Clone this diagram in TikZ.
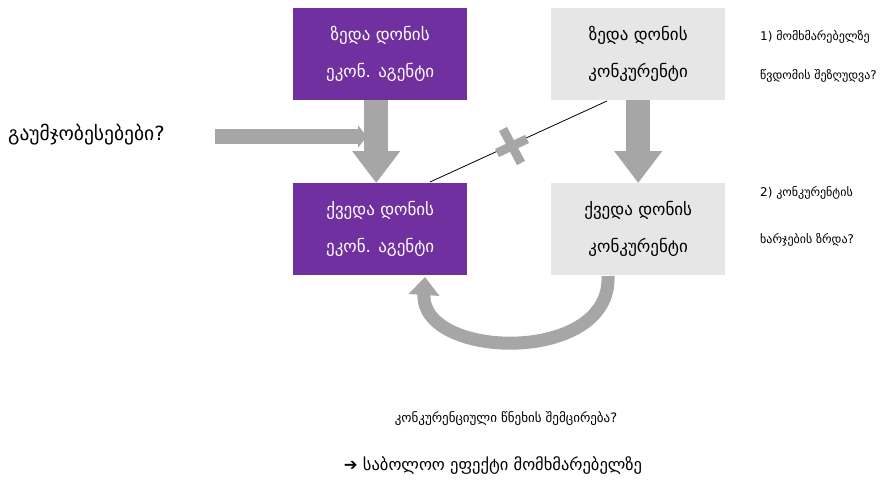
\documentclass[tikz,border=0pt]{standalone}
\usepackage{fontspec}
\setmainfont{DejaVu Sans}
\newfontfamily\geo{DejaVu Sans}
\usetikzlibrary{arrows.meta}
\definecolor{purp}{HTML}{7030A0}
\definecolor{lgrey}{HTML}{E6E6E6}
\definecolor{agrey}{HTML}{A6A6A6}
\tikzset{
  purplebox/.style={fill=purp, text=white, minimum width=174pt, minimum height=92pt, inner sep=0pt, align=center, font=\geo\fontsize{17}{37}\selectfont, anchor=north west},
  greybox/.style={fill=lgrey, text=black, minimum width=174pt, minimum height=92pt, inner sep=0pt, align=center, font=\geo\fontsize{17}{37}\selectfont, anchor=north west},
  bigarrow/.style={draw=agrey, line width=24pt, -{Triangle[width=46pt,length=32pt]}},
  sidetext/.style={anchor=west, font=\geo\fontsize{12}{14}\selectfont, inner sep=0pt}
}
\begin{document}
\begin{tikzpicture}[x=1pt,y=-1pt]
\useasboundingbox (0,0) rectangle (893,482);
% boxes
\node[purplebox] (b1) at (293,8) {ზედა დონის\\ეკონ. აგენტი};
\node[greybox] (b2) at (551,8) {ზედა დონის\\კონკურენტი};
\node[purplebox] (b3) at (293,183) {ქვედა დონის\\ეკონ. აგენტი};
\node[greybox] (b4) at (551,183) {ქვედა დონის\\კონკურენტი};
% vertical arrows
\draw[bigarrow] ([xshift=-4pt]b1.south) -- ([xshift=-4pt]b3.north);
\draw[bigarrow] (b2.south) -- (b4.north);
% left arrow
\node[anchor=west, font=\geo\fontsize{19.5}{22}\selectfont, inner sep=0pt] (improv) at (8,135) {გაუმჯობესებები?};
\coordinate (la1) at (215,136.5);
\coordinate (la2) at (367,136.5);
\draw[draw=agrey, line width=15pt, -{Triangle[width=22pt,length=9pt]}] (la1) -- (la2);
% blocked line
\coordinate (c1) at (430,182);
\coordinate (c2) at (607,101);
\draw[black, line width=0.8pt] (c1) -- (c2);
\coordinate (xc) at (512,146);
\draw[agrey, line width=9pt] ([shift={(-9,-17)}]xc) -- ([shift={(9,17)}]xc);
\draw[agrey, line width=9pt] ([shift={(-15,7)}]xc) -- ([shift={(15,-7)}]xc);
% curved arrow
\coordinate (ca1) at (608,276);
\coordinate (ca2) at (425,277);
\draw[draw=agrey, line width=13pt, -{Triangle[width=30pt,length=18pt]}] (ca1) .. controls (612,365) and (420,360) .. (ca2);
% right texts
\node[sidetext] (r1) at (760,37) {1) მომხმარებელზე};
\node[sidetext] (r2) at (760,76) {წვდომის შეზღუდვა?};
\node[sidetext] (r3) at (760,193) {2) კონკურენტის};
\node[sidetext] (r4) at (760,240) {ხარჯების ზრდა?};
% bottom texts
\node[font=\geo\fontsize{13}{15}\selectfont, inner sep=0pt] (bt1) at (506,419) {კონკურენციული წნეხის შემცირება?};
\node[font=\geo\fontsize{16.5}{19}\selectfont, inner sep=0pt] (bt2) at (493,466) {➔ საბოლოო ეფექტი მომხმარებელზე};
\end{tikzpicture}
\end{document}
